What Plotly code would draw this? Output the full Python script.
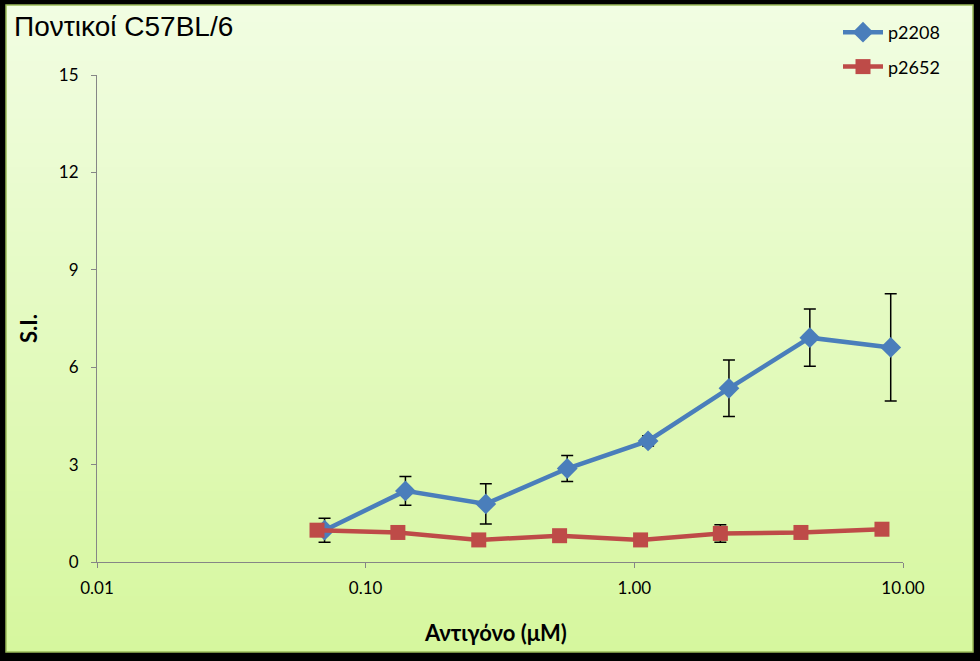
import plotly.graph_objects as go

# ---- data ----
conc_p2208 = [0.0703, 0.1406, 0.28, 0.5625, 1.125, 2.25, 4.5, 9.0]
si_p2208 = [0.98, 2.19, 1.79, 2.88, 3.73, 5.35, 6.91, 6.61]
err_p2208 = [0.37, 0.44, 0.62, 0.40, 0.16, 0.87, 0.88, 1.65]

conc_p2652 = [0.0659, 0.1318, 0.2636, 0.527, 1.055, 2.09, 4.17, 8.35]
si_p2652 = [0.98, 0.91, 0.68, 0.81, 0.68, 0.88, 0.91, 1.01]
err_p2652 = [0.08, 0.05, 0.05, 0.05, 0.05, 0.27, 0.05, 0.05]

x_tickvals = [0.01, 0.1, 1, 10]
x_ticktext = ["0.01", "0.10", "1.00", "10.00"]
y_tickvals = [0, 3, 6, 9, 12, 15]

W, H = 980, 661
FONT = "Lato, 'Open Sans', sans-serif"

def px(x):
    return x / W

def py(y):
    return 1 - y / H

fig = go.Figure()

fig.add_trace(go.Scatter(
    x=conc_p2208, y=si_p2208, name="p2208", mode="lines+markers",
    line=dict(color="#4a7ebb", width=4.5),
    marker=dict(symbol="diamond", size=16, color="#4a7ebb"),
    error_y=dict(type="data", array=err_p2208, visible=True,
                 color="black", thickness=1.5, width=6),
    legendgroup="a",
))
fig.add_trace(go.Scatter(
    x=conc_p2652, y=si_p2652, name="p2652", mode="lines+markers",
    line=dict(color="#be4b48", width=4.5),
    marker=dict(symbol="square", size=15, color="#be4b48"),
    error_y=dict(type="data", array=err_p2652, visible=True,
                 color="black", thickness=1.5, width=6),
    legendgroup="b",
))

# gradient background made of overlapping bands (no seams)
shapes = []
top_c = (0xf1, 0xfd, 0xe2)
bot_c = (0xd6, 0xf7, 0x9e)
y0p, y1p = 5, 652
n = 80
for i in range(n):
    a = y0p + (y1p - y0p) * i / n
    t = i / (n - 1)
    c = tuple(round(top_c[k] + (bot_c[k] - top_c[k]) * t) for k in range(3))
    shapes.append(dict(type="rect", xref="paper", yref="paper",
                       x0=px(6), x1=px(973), y0=py(y1p), y1=py(a),
                       fillcolor="rgb(%d,%d,%d)" % c, line=dict(width=0),
                       layer="below"))
shapes.append(dict(type="rect", xref="paper", yref="paper",
                   x0=px(6), x1=px(973), y0=py(652), y1=py(5),
                   line=dict(color="#9bbb59", width=1.5),
                   fillcolor="rgba(0,0,0,0)", layer="below"))

fig.update_layout(
    width=W, height=H,
    margin=dict(l=0, r=0, t=0, b=0, autoexpand=False),
    paper_bgcolor="black",
    plot_bgcolor="rgba(0,0,0,0)",
    shapes=shapes,
    showlegend=True,
    legend=dict(xref="container", yref="container",
                x=px(838), y=py(14), xanchor="left", yanchor="top",
                bgcolor="rgba(0,0,0,0)", font=dict(family=FONT, size=18, color="black"),
                tracegroupgap=8, itemwidth=40),
    xaxis=dict(type="log", range=[-2, 1], domain=[px(97), px(903)],
               tickvals=x_tickvals, ticktext=x_ticktext,
               showgrid=False, zeroline=False,
               showline=True, linecolor="#868686", linewidth=1,
               ticks="outside", ticklen=5, tickcolor="#868686",
               ticklabelstandoff=6,
               tickfont=dict(family=FONT, size=17, color="black"),
               anchor="y"),
    yaxis=dict(range=[0, 15], domain=[py(562), py(75)],
               tickvals=y_tickvals, showgrid=False, zeroline=False,
               showline=True, linecolor="#868686", linewidth=1,
               ticks="outside", ticklen=5, tickcolor="#868686",
               ticklabelstandoff=9,
               tickfont=dict(family=FONT, size=17, color="black"),
               anchor="x"),
    annotations=[
        dict(text="Ποντικοί C57BL/6", xref="paper", yref="paper",
             x=px(12), y=py(26), xanchor="left", yanchor="middle", showarrow=False,
             font=dict(family="Liberation Sans, Arial", size=28, color="black")),
        dict(text="<b>Αντιγόνο (μΜ)</b>", xref="paper", yref="paper",
             x=px(496), y=py(632), xanchor="center", yanchor="middle", showarrow=False,
             font=dict(family=FONT, size=22, color="black")),
        dict(text="<b>S.I.</b>", xref="paper", yref="paper", textangle=-90,
             x=px(28), y=py(329), xanchor="center", yanchor="middle", showarrow=False,
             font=dict(family=FONT, size=22, color="black")),
    ],
)

fig.write_html("out.html")
